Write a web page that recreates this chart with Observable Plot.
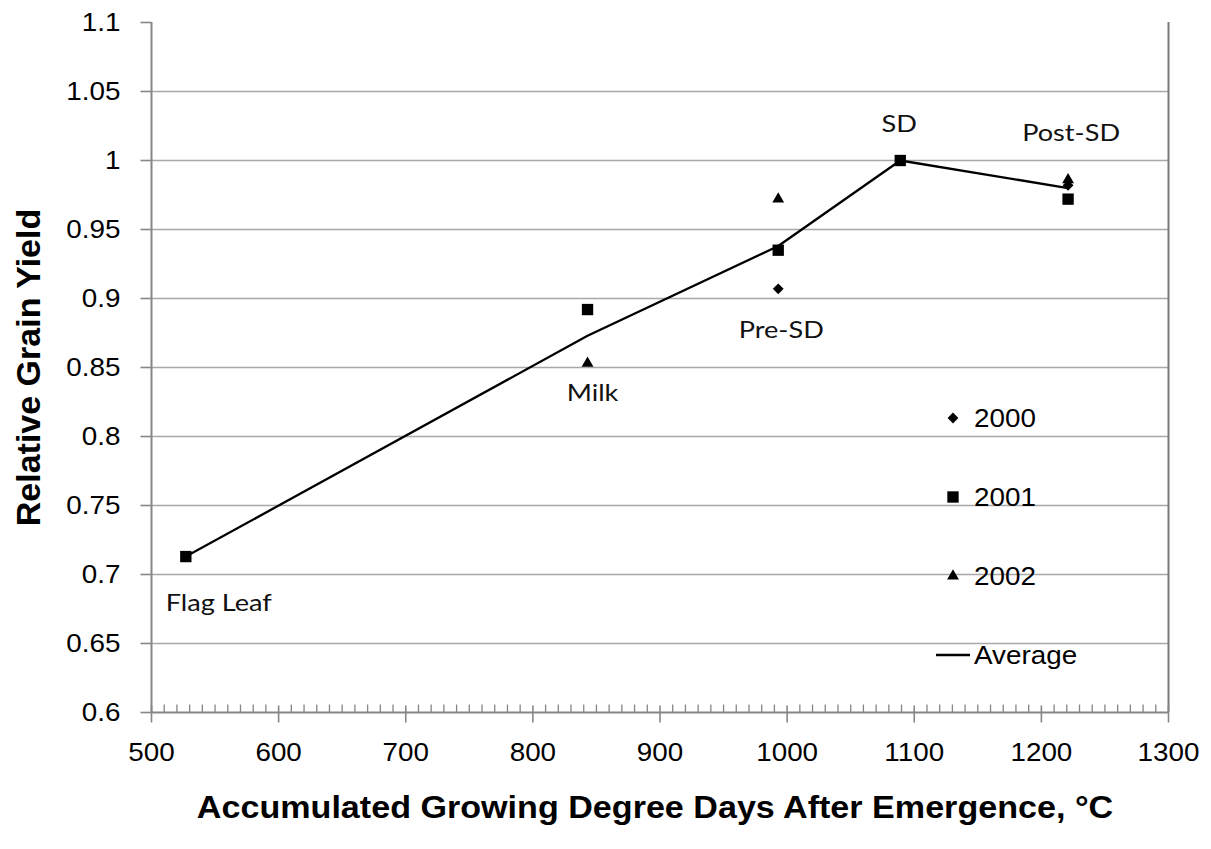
<!DOCTYPE html>
<html><head><meta charset="utf-8">
<script src="https://cdn.jsdelivr.net/npm/d3@7"></script>
<script src="https://cdn.jsdelivr.net/npm/@observablehq/plot@0.6"></script>
<style>
html,body{margin:0;padding:0;background:#fff;}
#chart{position:relative;width:1211px;height:849px;}
</style></head><body><div id="chart"></div>
<script>
// ---- data ----
const stages = ["Flag Leaf", "Milk", "Pre-SD", "SD", "Post-SD"];
const gdd = [527, 843, 993, 1089, 1221];
const yield2000 = [null, null, 0.907, null, 0.982];
const yield2001 = [0.713, 0.892, 0.935, 1.0, 0.972];
const yield2002 = [null, 0.853, 0.972, null, 0.986];
const yieldAvg = [0.713, 0.873, 0.938, 1.0, 0.980];
const seriesNames = ["2000", "2001", "2002", "Average"];
const xTicks = [500, 600, 700, 800, 900, 1000, 1100, 1200, 1300];
const xTickLabels = ["500", "600", "700", "800", "900", "1000", "1100", "1200", "1300"];
const yTicks = [0.6, 0.65, 0.7, 0.75, 0.8, 0.85, 0.9, 0.95, 1.0, 1.05, 1.1];
const yTickLabels = ["0.6", "0.65", "0.7", "0.75", "0.8", "0.85", "0.9", "0.95", "1", "1.05", "1.1"];
const xTitle = "Accumulated Growing Degree Days After Emergence, °C";
const yTitle = "Relative Grain Yield";

// ---- derived tables ----
const rows = stages.map((s, i) => ({stage: s, gdd: gdd[i], avg: yieldAvg[i]}));
const pts = (arr, name) => arr.map((v, i) => ({series: name, gdd: gdd[i], y: v})).filter(d => d.y != null);
const p2000 = pts(yield2000, seriesNames[0]);
const p2001 = pts(yield2001, seriesNames[1]);
const p2002 = pts(yield2002, seriesNames[2]);
const minorTicks = d3.range(510, 1300, 10).filter(v => v % 100 !== 0);
const gridVals = yTicks.filter(v => v > 0.6 && v < 1.1);

// label placement (pixel offsets from the average point)
const labelOffsets = {"Flag Leaf": [33, 47], "Milk": [5, 58], "Pre-SD": [3, 85], "SD": [-1, -36], "Post-SD": [3, -54]};

// tick symbols
const sym = (x1, y1, x2, y2) => ({draw(ctx) { ctx.moveTo(x1, y1); ctx.lineTo(x2, y2); }});
const yTickSym = sym(-11, 0, 0, 0);
const xMajorSym = sym(0, -7, 0, 10);
const xMinorSym = sym(0, -8, 0, 0);

const axisGray = "#868686";
const labelFont = "Lato, 'Open Sans', sans-serif";
const arial = "'Liberation Sans', Arial, sans-serif";

const plot = Plot.plot({
  width: 1211, height: 849,
  marginLeft: 151, marginRight: 43, marginTop: 22, marginBottom: 137,
  x: {domain: [500, 1300], axis: null},
  y: {domain: [0.6, 1.1], axis: null},
  style: {background: "white", overflow: "visible"},
  marks: [
    Plot.ruleY(gridVals, {y: d => d, stroke: "#a8a8a8", strokeWidth: 1.4}),
    Plot.ruleX([1300], {x: d => d, stroke: "#7a7a7a", strokeWidth: 2}),
    Plot.ruleX([500], {x: d => d, stroke: axisGray, strokeWidth: 2}),
    Plot.ruleY([0.6], {y: d => d, stroke: axisGray, strokeWidth: 2}),
    Plot.dot(yTicks, {y: d => d, frameAnchor: "left", symbol: yTickSym, stroke: axisGray, strokeWidth: 1.6, fill: "none"}),
    Plot.dot(xTicks, {x: d => d, frameAnchor: "bottom", symbol: xMajorSym, stroke: axisGray, strokeWidth: 1.6, fill: "none"}),
    Plot.dot(minorTicks, {x: d => d, frameAnchor: "bottom", symbol: xMinorSym, stroke: axisGray, strokeWidth: 1.3, fill: "none"}),
    Plot.line(rows, {x: "gdd", y: "avg", stroke: "#000", strokeWidth: 2.3}),
    Plot.dot(p2000, {x: "gdd", y: "y", symbol: "square", rotate: 45, r: 4.3, fill: "#000", stroke: "none"}),
    Plot.dot(p2001, {x: "gdd", y: "y", symbol: "square", r: 6.4, fill: "#000", stroke: "none"}),
    Plot.dot(p2002, {x: "gdd", y: "y", symbol: "triangle", r: 4.4, fill: "#000", stroke: "none"}),
    ...stages.map(s => Plot.text(rows.filter(r => r.stage === s), {
      x: "gdd", y: "avg", text: "stage", dx: labelOffsets[s][0], dy: labelOffsets[s][1],
      fontFamily: labelFont, fontSize: 23, fill: "#111", ariaDescription: "stagelabel"
    })),
    Plot.text(yTicks, {y: d => d, frameAnchor: "left", text: (d, i) => yTickLabels[i], textAnchor: "end", dx: -31,
      fontFamily: arial, fontSize: 26, fill: "#000", ariaDescription: "ticklabel"}),
    Plot.text(xTicks, {x: d => d, frameAnchor: "bottom", text: (d, i) => xTickLabels[i], dy: 48,
      fontFamily: arial, fontSize: 26, fill: "#000", ariaDescription: "ticklabel"}),
    Plot.text([xTitle], {frameAnchor: "bottom", text: d => d, dy: 105, dx: -5,
      fontFamily: arial, fontSize: 31, fontWeight: "bold", fill: "#000", ariaDescription: "xtitle"}),
    Plot.text([yTitle], {frameAnchor: "left", text: d => d, rotate: -90, dx: -122, textAnchor: "middle",
      fontFamily: arial, fontSize: 34, fontWeight: "bold", fill: "#000", ariaDescription: "ytitle"})
  ]
});

const chart = document.getElementById("chart");
chart.appendChild(plot);

// ---- legend (inside plot area, as in the original) ----
const leg = d3.select(chart).append("svg")
  .attr("width", 1211).attr("height", 849)
  .style("position", "absolute").style("left", "0px").style("top", "0px");
const legendItems = [
  {name: seriesNames[0], kind: "diamond", top: 418},
  {name: seriesNames[1], kind: "square", top: 497},
  {name: seriesNames[2], kind: "triangle", top: 576},
  {name: seriesNames[3], kind: "line", top: 655}
];
const g = leg.selectAll("g").data(legendItems).join("g").attr("transform", d => `translate(953,${d.top})`);
g.filter(d => d.kind === "diamond").append("path").attr("d", d3.symbol(d3.symbolSquare, Math.PI * 4.3 * 4.3)()).attr("transform", "rotate(45)").attr("fill", "#000");
g.filter(d => d.kind === "square").append("path").attr("d", d3.symbol(d3.symbolSquare, Math.PI * 6.4 * 6.4)()).attr("fill", "#000");
g.filter(d => d.kind === "triangle").append("path").attr("d", d3.symbol(d3.symbolTriangle, Math.PI * 4.4 * 4.4)()).attr("fill", "#000");
g.filter(d => d.kind === "line").append("line").attr("x1", -17).attr("x2", 17).attr("y1", 0).attr("y2", 0).attr("stroke", "#000").attr("stroke-width", 2.3);
g.append("text").attr("x", 21).attr("y", 0).attr("dy", "0.35em").text(d => d.name)
  .attr("font-family", arial).attr("font-size", 26).attr("fill", "#000").attr("class", "legtext");

// horizontal stretch to match the original's wide rendering of text
function stretch(nodes, k) {
  nodes.forEach(n => {
    const w = n.getComputedTextLength();
    if (w > 0) { n.setAttribute("textLength", (w * k).toFixed(1)); n.setAttribute("lengthAdjust", "spacingAndGlyphs"); }
  });
}
const sel = q => Array.from(chart.querySelectorAll(q));
stretch(sel('g[aria-description="ticklabel"] text'), 1.07);
stretch(sel('g[aria-description="xtitle"] text'), 1.1);
stretch(sel('g[aria-description="stagelabel"] text'), 1.18);
stretch(sel('text.legtext'), 1.07);
</script>
</body></html>
